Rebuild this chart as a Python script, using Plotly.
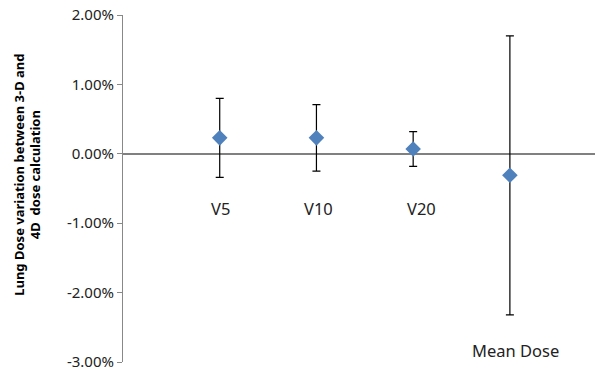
import plotly.graph_objects as go

categories = ["V5", "V10", "V20", "Mean Dose"]
x_pos = [1, 2, 3, 4]
values = [0.0023, 0.0023, 0.0007, -0.0031]
errors = [0.0057, 0.0048, 0.0025, 0.0201]
label_y = [-0.0079, -0.0079, -0.0079, -0.0284]
y_ticks = [0.02, 0.01, 0.0, -0.01, -0.02, -0.03]
y_tick_text = ["2.00%", "1.00%", "0.00%", "-1.00%", "-2.00%", "-3.00%"]

label_xshift = [1, 2, 8, 6]  # style: small horizontal offsets of the labels (px)

fig = go.Figure()
fig.add_trace(go.Scatter(
    x=x_pos, y=values, mode="markers",
    marker=dict(symbol="diamond", size=12, color="#4F81BD"),
    error_y=dict(type="data", array=errors, visible=True, color="#000000",
                 thickness=1.2, width=4),
    showlegend=False,
))

for xp, ly, name, sh in zip(x_pos, label_y, categories, label_xshift):
    fig.add_annotation(x=xp, y=ly, text=name, showarrow=False, xshift=sh,
                       font=dict(family="Noto Sans", size=16.5, color="#222222"))

fig.add_annotation(
    xref="paper", yref="paper", x=-0.203, y=0.54, xanchor="center", yanchor="middle",
    text="<b>Lung Dose variation between 3-D and<br>4D  dose calculation</b>",
    textangle=-90, showarrow=False,
    font=dict(family="Noto Sans", size=13, color="#000000"),
)

fig.update_xaxes(range=[0, 4.88], showgrid=False, zeroline=False, showline=False,
                 showticklabels=False, ticks="", automargin=False)
fig.update_yaxes(range=[-0.03, 0.02], tickvals=y_ticks, ticktext=y_tick_text,
                 showgrid=False, zeroline=True, zerolinecolor="#808080", zerolinewidth=1.5,
                 showline=True, linecolor="#888888", linewidth=1,
                 ticks="outside", ticklen=5, tickcolor="#888888", automargin=False,
                 ticklabeloverflow="allow",
                 tickfont=dict(family="Noto Sans", size=15, color="#222222"))

fig.update_layout(
    width=595, height=371,
    margin=dict(l=123, r=0, t=15, b=9),
    paper_bgcolor="white", plot_bgcolor="white",
)

fig.write_html("out.html", config={"displayModeBar": False},
               post_script="document.body.style.margin='0';document.body.style.overflow='hidden';")
